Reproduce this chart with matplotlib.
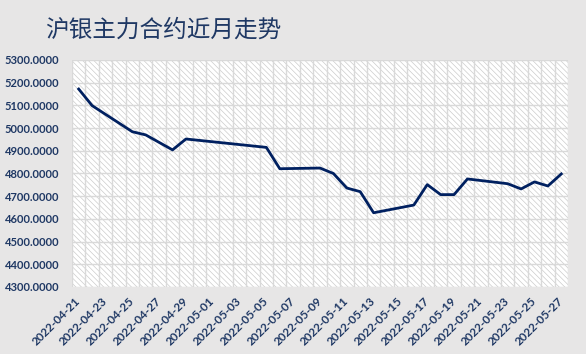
import datetime as dt
import matplotlib
matplotlib.use("Agg")
import matplotlib.pyplot as plt
import matplotlib.dates as mdates
from matplotlib.patches import Rectangle

# trading days and prices
dates = ["2022-04-21", "2022-04-22", "2022-04-25", "2022-04-26", "2022-04-28",
         "2022-04-29", "2022-05-05", "2022-05-06", "2022-05-09", "2022-05-10",
         "2022-05-11", "2022-05-12", "2022-05-13", "2022-05-16", "2022-05-17",
         "2022-05-18", "2022-05-19", "2022-05-20", "2022-05-23", "2022-05-24",
         "2022-05-25", "2022-05-26", "2022-05-27"]
prices = [5172, 5099, 4984, 4970, 4904,
          4952, 4915, 4821, 4824, 4800,
          4736, 4720, 4627, 4661, 4751,
          4707, 4707, 4776, 4755, 4732,
          4763, 4745, 4798]
title = "沪银主力合约近月走势"

navy = "#1f3864"
line_col = "#002060"
grid_col = "#d9d9d9"
bg = "#e7e6e6"

plt.rcParams["hatch.linewidth"] = 0.5

x = [dt.datetime.strptime(d, "%Y-%m-%d") for d in dates]

fig = plt.figure(figsize=(5.86, 3.54), dpi=100, facecolor=bg)
ax = fig.add_axes([72 / 586, 1 - 287 / 354, 496 / 586, 227 / 354])
ax.set_facecolor("white")
# diagonal pattern fill of the plot area
ax.add_patch(Rectangle((0, 0), 1, 1, transform=ax.transAxes, facecolor="white",
                       edgecolor="#cccccc", hatch="\\" * 6, lw=0, zorder=0))

ax.plot(x, prices, color=line_col, lw=2.0, zorder=3, solid_joinstyle="round")

start, end = x[0], x[-1]
half = dt.timedelta(hours=12)
ax.set_xlim(start - half, end + half)
ax.set_ylim(4300, 5300)

ax.xaxis.set_major_formatter(mdates.DateFormatter("%Y-%m-%d"))
ax.set_xticks([start + dt.timedelta(days=i) for i in range(0, 37, 2)])
ax.set_xticks([start - half + dt.timedelta(days=i) for i in range(38)], minor=True)
ax.set_yticks(range(4300, 5301, 100))
ax.yaxis.set_major_formatter(lambda v, p: f"{v:.4f}")

ax.grid(True, which="major", axis="y", color=grid_col, lw=1, zorder=1)
ax.grid(True, which="minor", axis="x", color=grid_col, lw=1, zorder=1)
ax.set_axisbelow(True)
ax.tick_params(which="both", length=0)
ax.tick_params(axis="y", pad=9)
ax.tick_params(axis="x", pad=9)
for s in ax.spines.values():
    s.set_visible(False)

for lab in ax.get_yticklabels():
    lab.set_fontfamily("Lato")
    lab.set_fontweight("bold")
    lab.set_fontsize(8)
    lab.set_color(navy)
for lab in ax.get_xticklabels():
    lab.set_fontfamily("Lato")
    lab.set_fontweight("bold")
    lab.set_fontsize(8.5)
    lab.set_color(navy)
    lab.set_rotation(45)
    lab.set_rotation_mode("anchor")
    lab.set_ha("right")
    lab.set_va("center")

fig.text(45 / 586, 1 - 30 / 354, title, fontsize=17, color=navy,
         fontfamily=["Noto Sans CJK SC", "DejaVu Sans"], va="center", ha="left")

fig.savefig("out.png", dpi=100, facecolor=bg)
